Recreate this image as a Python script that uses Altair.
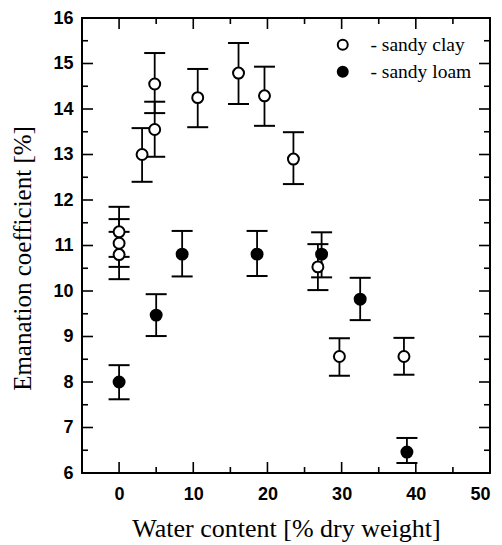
import altair as alt
import pandas as pd

# ---- data ----
clay_x = [0, 0, 0, 3.1, 4.8, 4.8, 10.6, 16.1, 19.6, 23.5, 26.8, 29.7, 38.4]
clay_y = [11.30, 11.05, 10.80, 13.00, 13.55, 14.55, 14.25, 14.79, 14.29, 12.90, 10.53, 8.56, 8.56]
clay_hi = [11.85, 11.58, 11.30, 13.58, 14.16, 15.23, 14.88, 15.45, 14.93, 13.49, 11.03, 8.96, 8.97]
clay_lo = [10.75, 10.53, 10.26, 12.40, 12.95, 13.91, 13.60, 14.11, 13.63, 12.35, 10.02, 8.14, 8.16]

loam_x = [0, 5.0, 8.5, 18.6, 27.3, 32.5, 38.8]
loam_y = [8.00, 9.47, 10.81, 10.81, 10.81, 9.82, 6.46]
loam_hi = [8.37, 9.93, 11.32, 11.32, 11.29, 10.29, 6.77]
loam_lo = [7.62, 9.01, 10.32, 10.33, 10.30, 9.36, 6.22]

series_names = ["sandy clay", "sandy loam"]

x_major = [0, 10, 20, 30, 40, 50]
x_minor = [5, 15, 25, 35, 45]
y_major = [6, 7, 8, 9, 10, 11, 12, 13, 14, 15, 16]
y_minor = [6.5, 7.5, 8.5, 9.5, 10.5, 11.5, 12.5, 13.5, 14.5, 15.5]

# ---- build table ----
df = pd.concat([
    pd.DataFrame({"x": clay_x, "y": clay_y, "hi": clay_hi, "lo": clay_lo,
                  "series": series_names[0]}),
    pd.DataFrame({"x": loam_x, "y": loam_y, "hi": loam_hi, "lo": loam_lo,
                  "series": series_names[1]}),
], ignore_index=True)

W, H = 408, 455
xs = alt.Scale(domain=[-5, 50], nice=False, zero=False)
ys = alt.Scale(domain=[6, 16], nice=False, zero=False)

xaxis = alt.Axis(values=x_major, title="Water content [% dry weight]", grid=False,
                 ticks=False, domain=False, labelFont="Liberation Sans",
                 labelFontWeight="bold", labelFontSize=18, labelPadding=12,
                 labelColor="black", titleFont="Liberation Serif", titleFontSize=26,
                 titleFontWeight="normal", titleColor="black", titlePadding=12)
yaxis = alt.Axis(values=y_major, title="Emanation coefficient [%]", grid=False,
                 ticks=False, domain=False, labelFont="Liberation Sans",
                 labelFontWeight="bold", labelFontSize=18, labelPadding=9,
                 labelColor="black", titleFont="Liberation Serif", titleFontSize=25,
                 titleFontWeight="normal", titleColor="black", titlePadding=17,
                 titleY=240)

base = alt.Chart(df)

bars = base.mark_rule(color="black", strokeWidth=1.8).encode(
    x=alt.X("x:Q", scale=xs, axis=xaxis),
    y=alt.Y("lo:Q", scale=ys, axis=yaxis),
    y2="hi:Q",
)
cap_hi = base.mark_tick(orient="horizontal", color="black", size=21,
                        thickness=2, opacity=1).encode(
    x=alt.X("x:Q", scale=xs, axis=xaxis), y=alt.Y("hi:Q", scale=ys, axis=yaxis))
cap_lo = base.mark_tick(orient="horizontal", color="black", size=21,
                        thickness=2, opacity=1).encode(
    x=alt.X("x:Q", scale=xs, axis=xaxis), y=alt.Y("lo:Q", scale=ys, axis=yaxis))

pts = base.mark_point(shape="circle", filled=True, size=120, stroke="black",
                      strokeWidth=2, opacity=1, fillOpacity=1).encode(
    x=alt.X("x:Q", scale=xs, axis=xaxis),
    y=alt.Y("y:Q", scale=ys, axis=yaxis),
    fill=alt.Fill("series:N",
                  scale=alt.Scale(domain=series_names, range=["white", "black"]),
                  legend=alt.Legend(title=None, orient="none", legendX=251,
                                    legendY=17, padding=0, rowPadding=6,
                                    symbolType="circle", symbolSize=100,
                                    symbolStrokeColor="black",
                                    symbolStrokeWidth=2, labelOffset=18,
                                    labelFont="Liberation Serif",
                                    labelFontSize=19.5, labelColor="black",
                                    labelExpr="'- ' + datum.label")),
)


def xticks(vals, length):
    d = pd.DataFrame({"v": vals})
    b = alt.Chart(d).mark_rule(color="black", strokeWidth=1.6).encode(
        x=alt.X("v:Q", scale=xs, axis=xaxis), y=alt.value(H), y2=alt.value(H - length))
    t = alt.Chart(d).mark_rule(color="black", strokeWidth=1.6).encode(
        x=alt.X("v:Q", scale=xs, axis=xaxis), y=alt.value(0), y2=alt.value(length))
    return [b, t]


def yticks(vals, length):
    d = pd.DataFrame({"v": vals})
    l = alt.Chart(d).mark_rule(color="black", strokeWidth=1.6).encode(
        y=alt.Y("v:Q", scale=ys, axis=yaxis), x=alt.value(0), x2=alt.value(length))
    r = alt.Chart(d).mark_rule(color="black", strokeWidth=1.6).encode(
        y=alt.Y("v:Q", scale=ys, axis=yaxis), x=alt.value(W), x2=alt.value(W - length))
    return [l, r]


tick_layers = (xticks(x_major, 11) + xticks(x_minor, 6)
               + yticks(y_major, 11) + yticks(y_minor, 6))

chart = alt.layer(bars, cap_hi, cap_lo, pts, *tick_layers).properties(
    width=W, height=H,
    autosize=alt.AutoSizeParams(type="none"),
    padding={"left": 74, "top": 10, "right": 4, "bottom": 74},
    background="white",
).configure_view(stroke="black", strokeWidth=2)

chart.save("out.html", embed_options={"renderer": "svg", "actions": False})
